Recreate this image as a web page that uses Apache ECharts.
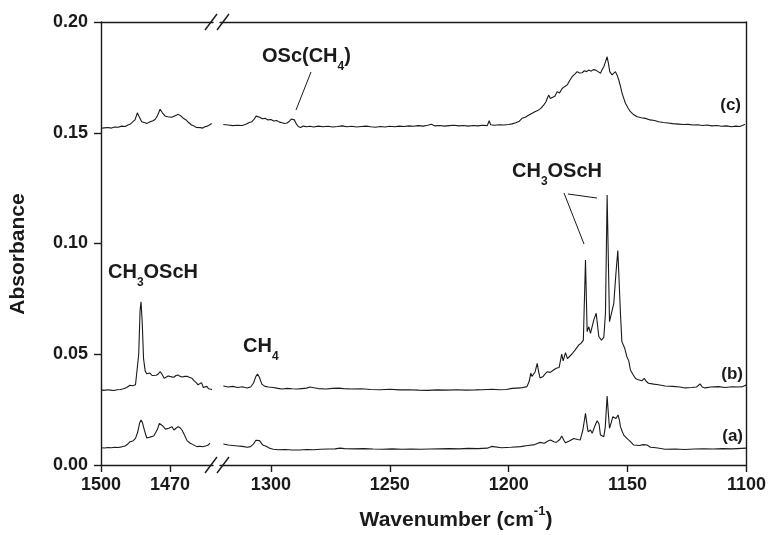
<!DOCTYPE html>
<html>
<head>
<meta charset="utf-8">
<title>IR spectra</title>
<script src="https://cdn.jsdelivr.net/npm/echarts@6/dist/echarts.min.js"></script>
<style>
  html, body { margin: 0; padding: 0; background: #fff; }
  #chart { width: 769px; height: 535px; }
</style>
</head>
<body>
<div id="chart"></div>
<script>
// tick values for the two pieces of the broken wavenumber axis
var leftTicks = [1500, 1470];
var rightTicks = [1300, 1250, 1200, 1150, 1100];

// spectrum (a), [wavenumber, absorbance]
var specA_left = [
  [1500,0.0078],[1498.5,0.0077],[1497,0.0079],[1495.5,0.0078],[1494,0.0080],[1492.5,0.0079],[1491,0.0082],
  [1489.5,0.0086],[1488.3,0.0095],[1487.4,0.0105],[1486.2,0.0108],[1485,0.0120],[1484,0.0150],[1483.2,0.0190],
  [1482.6,0.0203],[1482,0.0192],[1481.2,0.0160],[1480.1,0.0122],[1479,0.0125],[1478,0.0128],[1477,0.0132],
  [1476.3,0.0135],[1475.5,0.0160],[1474.6,0.0188],[1474,0.0191],[1473,0.0175],[1472,0.0162],[1471.3,0.0158],
  [1470.5,0.0166],[1469.1,0.0173],[1468.3,0.0158],[1467.4,0.0166],[1466.5,0.0173],[1465.6,0.0168],[1464.8,0.0158],
  [1463.7,0.0135],[1462.6,0.0110],[1461.2,0.0098],[1460,0.0092],[1458.3,0.0083],[1457,0.0085],[1455.8,0.0082],
  [1454.5,0.0086],[1453.4,0.0090],[1452.6,0.0099]
];
var specA_right = [
  [1320,0.0095],[1318,0.0090],[1316,0.0088],[1314,0.0086],[1312,0.0084],[1310,0.0080],[1308.5,0.0083],
  [1307.3,0.0095],[1306.3,0.0112],[1305.6,0.0120],[1304.8,0.0110],[1303.4,0.0090],[1302,0.0085],[1300.5,0.0076],
  [1299,0.0071],[1297,0.0069],[1294,0.0070],[1291,0.0068],[1288,0.0068],[1285,0.0070],[1282,0.0069],[1279,0.0071],
  [1276,0.0072],[1273,0.0073],[1271,0.0076],[1270.3,0.0079],[1269,0.0074],[1265,0.0073],[1261,0.0074],[1257,0.0072],
  [1253,0.0071],[1249,0.0073],[1245,0.0071],[1241,0.0072],[1237,0.0071],[1233,0.0072],[1229,0.0073],[1225,0.0074],
  [1221,0.0073],[1217,0.0075],[1213,0.0074],[1209,0.0076],[1207.2,0.0084],[1206.5,0.0076],[1203,0.0078],
  [1199,0.0080],[1195,0.0083],[1192,0.0088],[1189,0.0092],[1187,0.0102],[1185,0.0098],[1183.5,0.0108],
  [1182.4,0.0113],[1181,0.0105],[1180,0.0102],[1178.5,0.0115],[1177.7,0.0131],[1176.8,0.0112],[1176.1,0.0100],
  [1174.5,0.0108],[1172.6,0.0120],[1171,0.0115],[1169.9,0.0113],[1168.8,0.0158],[1167.7,0.0233],[1166.9,0.0170],
  [1166.6,0.0150],[1165.6,0.0158],[1164.9,0.0143],[1163.8,0.0175],[1162.8,0.0200],[1162,0.0185],[1161.4,0.0135],
  [1160.0,0.0128],[1159.4,0.0170],[1158.6,0.0311],[1158.0,0.0220],[1157.6,0.0166],[1156.9,0.0190],[1156.2,0.0218],
  [1155.5,0.0212],[1154.9,0.0210],[1154.0,0.0226],[1153.4,0.0200],[1153.0,0.0173],[1152.2,0.0150],[1151.6,0.0135],
  [1150.3,0.0120],[1149,0.0108],[1147.4,0.0090],[1145,0.0088],[1143.5,0.0092],[1142.8,0.0098],[1141.8,0.0090],
  [1140.4,0.0080],[1138,0.0078],[1134.2,0.0071],[1130,0.0072],[1126,0.0070],[1122,0.0072],[1118,0.0073],
  [1114,0.0072],[1110,0.0074],[1106,0.0073],[1102,0.0075],[1100.1,0.0076]
];

// spectrum (b)
var specB_left = [
  [1500,0.0339],[1498.6,0.0337],[1497.2,0.0340],[1495.8,0.0338],[1494.4,0.0336],[1493,0.0340],[1491.6,0.0341],
  [1490.2,0.0344],[1488.8,0.0350],[1487.4,0.0360],[1486.2,0.0358],[1485,0.0362],[1484.2,0.0370],[1483.6,0.0500],
  [1483.0,0.0700],[1482.6,0.0737],[1482.1,0.0650],[1481.5,0.0480],[1480.8,0.0425],[1480.1,0.0412],[1479.3,0.0418],
  [1478.7,0.0415],[1477.8,0.0404],[1477,0.0402],[1476,0.0405],[1475,0.0412],[1474.3,0.0422],[1473.5,0.0410],
  [1472.5,0.0392],[1471.8,0.0390],[1470.8,0.0402],[1470,0.0406],[1469.2,0.0398],[1468.3,0.0396],[1467.4,0.0404],
  [1466.5,0.0406],[1465.6,0.0400],[1464.6,0.0397],[1463.5,0.0400],[1462.6,0.0401],[1461.6,0.0396],[1460.5,0.0392],
  [1459.5,0.0380],[1458.6,0.0372],[1457.8,0.0362],[1457.0,0.0368],[1456.3,0.0372],[1455.5,0.0350],[1454.8,0.0348],
  [1454,0.0355],[1453.2,0.0344],[1452.5,0.0348],[1451.7,0.0341]
];
var specB_right = [
  [1320,0.0357],[1318,0.0352],[1316,0.0355],[1314,0.0350],[1312,0.0353],[1310,0.0348],[1308.5,0.0352],
  [1307.3,0.0370],[1306.3,0.0400],[1305.6,0.0411],[1304.8,0.0395],[1303.8,0.0365],[1302.5,0.0355],[1301,0.0352],
  [1299,0.0350],[1297,0.0346],[1295.4,0.0343],[1293,0.0346],[1291,0.0344],[1289,0.0343],[1287,0.0345],[1285,0.0347],
  [1283.5,0.0352],[1282.8,0.0356],[1282,0.0349],[1280,0.0345],[1277,0.0343],[1274,0.0346],[1271.5,0.0347],
  [1270.7,0.0352],[1269.5,0.0345],[1266,0.0343],[1262,0.0344],[1258,0.0341],[1254,0.0340],[1250,0.0342],
  [1246,0.0339],[1242,0.0340],[1238,0.0338],[1234,0.0337],[1230,0.0339],[1226,0.0338],[1222,0.0340],[1218,0.0338],
  [1214,0.0339],[1211,0.0340],[1207,0.0342],[1204,0.0340],[1201,0.0341],[1198.6,0.0346],[1195,0.0348],
  [1192.3,0.0354],[1191.3,0.0380],[1190.7,0.0415],[1190.2,0.0400],[1189.8,0.0393],[1188.9,0.0420],[1188.0,0.0459],
  [1187.4,0.0420],[1186.8,0.0393],[1185.5,0.0400],[1183.9,0.0421],[1182.5,0.0418],[1181.3,0.0428],[1180,0.0437],
  [1178.8,0.0440],[1177.7,0.0501],[1177.1,0.0470],[1176.1,0.0507],[1175.3,0.0480],[1174.7,0.0474],[1173.5,0.0500],
  [1172,0.0520],[1170.5,0.0542],[1169.5,0.0550],[1168.6,0.0564],[1167.7,0.0926],[1167.0,0.0602],[1166.3,0.0624],
  [1165.6,0.0594],[1164.2,0.0655],[1163.2,0.0685],[1162.1,0.0580],[1161.0,0.0564],[1160.0,0.0576],[1159.3,0.0686],
  [1158.6,0.1219],[1157.6,0.0647],[1156.8,0.0640],[1155.8,0.0730],[1154.9,0.0865],[1154.1,0.0968],[1153.4,0.0790],
  [1153.0,0.0685],[1152.4,0.0557],[1151.2,0.0527],[1150.3,0.0489],[1149.5,0.0470],[1148.8,0.0429],[1147.8,0.0410],
  [1146.7,0.0391],[1145.5,0.0385],[1144,0.0380],[1143,0.0391],[1142.2,0.0378],[1141.2,0.0369],[1139,0.0365],
  [1137,0.0362],[1134.2,0.0357],[1131,0.0355],[1128,0.0352],[1125.8,0.0348],[1123,0.0350],[1121,0.0352],
  [1119.5,0.0366],[1118.6,0.0352],[1117.4,0.0348],[1115,0.0352],[1111.8,0.0354],[1109,0.0350],[1106,0.0353],
  [1103.4,0.0352],[1101.5,0.0354],[1100.1,0.0361]
];

// spectrum (c)
var specC_left = [
  [1500,0.1520],[1498.5,0.1522],[1497,0.1524],[1495.5,0.1521],[1494,0.1526],[1492.5,0.1525],[1491,0.1530],
  [1489.5,0.1528],[1488.3,0.1535],[1487.2,0.1540],[1486.1,0.1550],[1485.2,0.1558],[1484.2,0.1590],[1483.4,0.1572],
  [1482.3,0.1550],[1481.2,0.1546],[1480.1,0.1542],[1479,0.1548],[1477.4,0.1554],[1476.5,0.1560],[1475.8,0.1570],
  [1475,0.1588],[1474.3,0.1606],[1473.3,0.1590],[1472.2,0.1576],[1471,0.1572],[1469.3,0.1570],[1468,0.1576],
  [1466.4,0.1583],[1465.3,0.1576],[1464.2,0.1565],[1463,0.1558],[1461.8,0.1545],[1460.6,0.1535],[1459.5,0.1530],
  [1458.5,0.1524],[1457.7,0.1520],[1456.8,0.1523],[1455.8,0.1521],[1454.8,0.1527],[1453.7,0.1530],[1452.7,0.1536],
  [1451.9,0.1542]
];
var specC_right = [
  [1320,0.1537],[1318,0.1535],[1316,0.1532],[1314,0.1534],[1312,0.1533],[1310.5,0.1538],[1309.3,0.1545],
  [1308,0.1550],[1307,0.1562],[1306.2,0.1575],[1305.5,0.1580],[1304.7,0.1570],[1303.6,0.1563],[1302.5,0.1565],
  [1301.2,0.1558],[1300,0.1560],[1298.8,0.1553],[1297.6,0.1555],[1296.4,0.1548],[1295.3,0.1545],[1294.2,0.1542],
  [1293.2,0.1544],[1292.2,0.1552],[1291.4,0.1562],[1290.8,0.1567],[1290.1,0.1558],[1289.3,0.1540],[1288.5,0.1528],
  [1287.5,0.1524],[1286.3,0.1530],[1285,0.1527],[1283.5,0.1529],[1282,0.1526],[1280,0.1530],[1278,0.1527],
  [1276,0.1529],[1274,0.1526],[1272,0.1528],[1270,0.1531],[1268,0.1527],[1266,0.1529],[1264,0.1526],[1262,0.1528],
  [1260,0.1530],[1258,0.1527],[1256,0.1525],[1254,0.1528],[1252,0.1526],[1250,0.1529],[1248,0.1527],[1246,0.1530],
  [1244,0.1528],[1242,0.1531],[1240,0.1529],[1238,0.1532],[1236,0.1530],[1234,0.1534],[1232.5,0.1538],[1231,0.1531],
  [1229,0.1533],[1227,0.1530],[1225,0.1532],[1223,0.1534],[1221,0.1531],[1219,0.1533],[1217,0.1530],[1215,0.1533],
  [1213,0.1531],[1211,0.1534],[1209,0.1532],[1208.2,0.1554],[1207.6,0.1536],[1206,0.1534],[1204,0.1536],
  [1202,0.1535],[1200,0.1537],[1198.6,0.1540],[1197,0.1545],[1195.5,0.1552],[1194.4,0.1565],[1193,0.1570],
  [1191.5,0.1580],[1190.1,0.1588],[1189,0.1595],[1187.8,0.1600],[1186.5,0.1610],[1185.3,0.1625],[1184.3,0.1640],
  [1183.6,0.1660],[1183.1,0.1670],[1182.5,0.1655],[1181.7,0.1648],[1180.6,0.1665],[1179.6,0.1685],[1178.6,0.1680],
  [1177.5,0.1700],[1176.5,0.1708],[1175.4,0.1716],[1174.4,0.1735],[1173.3,0.1753],[1172.2,0.1765],[1171.2,0.1776],
  [1170.2,0.1770],[1169.1,0.1771],[1168.2,0.1780],[1167.2,0.1776],[1166.3,0.1783],[1165.3,0.1778],[1164.4,0.1785],
  [1163.5,0.1783],[1162.4,0.1776],[1161.4,0.1769],[1160.7,0.1785],[1160.0,0.1798],[1159.3,0.1820],[1158.6,0.1843],
  [1158.0,0.1810],[1157.5,0.1776],[1156.5,0.1761],[1155.8,0.1770],[1155.1,0.1776],[1154.4,0.1760],[1153.7,0.1738],
  [1153.0,0.1710],[1152.3,0.1678],[1151.6,0.1655],[1150.9,0.1633],[1149.8,0.1612],[1148.8,0.1595],[1147.5,0.1582],
  [1146.0,0.1572],[1144.2,0.1568],[1142.5,0.1565],[1140.5,0.1558],[1138.7,0.1555],[1136.9,0.1550],[1135,0.1546],
  [1133,0.1544],[1131,0.1541],[1128.6,0.1539],[1126.5,0.1537],[1124.5,0.1538],[1122.5,0.1535],[1120.5,0.1536],
  [1118.5,0.1533],[1116.5,0.1535],[1114.6,0.1531],[1112.5,0.1533],[1110.5,0.1529],[1108.5,0.1531],[1106.2,0.1527],
  [1104.5,0.1530],[1103,0.1528],[1101.6,0.1533],[1100.6,0.1539]
];

var FONT = 'Liberation Sans, Arial, sans-serif';
var INK = '#1a1a1a';

var chart = echarts.init(document.getElementById('chart'));

function bottomAxis(grid, min, max, ticks) {
  return {
    type: 'value', gridIndex: grid, position: 'bottom', inverse: true, min: min, max: max,
    axisLine: { show: true, lineStyle: { color: INK, width: 1.4 } },
    axisTick: { show: true, customValues: ticks, length: 7, lineStyle: { color: INK, width: 1.4 } },
    axisLabel: { customValues: ticks, margin: 11, color: INK, fontSize: 18, fontWeight: 'bold', fontFamily: FONT,
      formatter: function (v) { return String(v); } },
    splitLine: { show: false }
  };
}
function topAxis(grid, min, max) {
  return {
    type: 'value', gridIndex: grid, position: 'top', inverse: true, min: min, max: max,
    axisLine: { show: true, lineStyle: { color: INK, width: 1.4 } },
    axisTick: { show: false }, axisLabel: { show: false }, splitLine: { show: false }
  };
}
function line(data, xi, yi) {
  return {
    type: 'line', data: data, xAxisIndex: xi, yAxisIndex: yi,
    showSymbol: false, symbol: 'none', silent: true, animation: false,
    lineStyle: { color: INK, width: 1.1 }
  };
}

var bold = { fontSize: 20, fontWeight: 'bold', fontFamily: FONT, verticalAlign: 'top' };
var sub = { fontSize: 12, fontWeight: 'bold', fontFamily: FONT, verticalAlign: 'top', padding: [15, 0, 0, 0] };
function label(txt, x, y) {
  return { type: 'text', silent: true, style: { text: txt, x: x, y: y, fill: INK, align: 'left', verticalAlign: 'top', rich: { b: bold, s: sub } } };
}
function seg(x1, y1, x2, y2) {
  return { type: 'line', silent: true, shape: { x1: x1, y1: y1, x2: x2, y2: y2 }, style: { stroke: INK, lineWidth: 1 } };
}
function slash(cx, cy) {
  return { type: 'line', silent: true, shape: { x1: cx - 6, y1: cy + 8, x2: cx + 6, y2: cy - 8 }, style: { stroke: INK, lineWidth: 1.4 } };
}
function tag(txt, x, y) {
  return { type: 'text', silent: true, style: { text: txt, x: x, y: y, fill: INK, align: 'right', verticalAlign: 'middle', fontSize: 17, fontWeight: 'bold', fontFamily: FONT } };
}

var option = {
  backgroundColor: '#fff',
  animation: false,
  grid: [
    { left: 101, top: 22, width: 112, height: 443 },
    { left: 220, top: 22, width: 528, height: 443 }
  ],
  xAxis: [
    bottomAxis(0, 1451.3, 1500, leftTicks),
    bottomAxis(1, 1100, 1321.4, rightTicks),
    topAxis(0, 1451.3, 1500),
    topAxis(1, 1100, 1321.4)
  ],
  yAxis: [
    {
      type: 'value', gridIndex: 0, position: 'left', min: 0, max: 0.2, interval: 0.05,
      axisLine: { show: true, lineStyle: { color: INK, width: 1.4 } },
      axisTick: { show: true, length: 7, lineStyle: { color: INK, width: 1.4 } },
      axisLabel: { margin: 13, color: INK, fontSize: 18, fontWeight: 'bold', fontFamily: FONT,
        formatter: function (v) { return v.toFixed(2); } },
      splitLine: { show: false }
    },
    {
      type: 'value', gridIndex: 1, position: 'right', min: 0, max: 0.2,
      axisLine: { show: true, lineStyle: { color: INK, width: 1.4 } },
      axisTick: { show: false }, axisLabel: { show: false }, splitLine: { show: false }
    }
  ],
  series: [
    line(specA_left, 0, 0), line(specB_left, 0, 0), line(specC_left, 0, 0),
    line(specA_right, 1, 1), line(specB_right, 1, 1), line(specC_right, 1, 1)
  ],
  graphic: [
    // axis break marks
    slash(211, 465), slash(223, 465), slash(211, 22), slash(223, 22),
    // peak labels
    label('{b|OSc(CH}{s|4}{b|)}', 262, 46),
    seg(311, 72, 296, 110),
    label('{b|CH}{s|3}{b|OScH}', 108, 262),
    label('{b|CH}{s|4}', 243, 336),
    label('{b|CH}{s|3}{b|OScH}', 512, 161),
    seg(564, 193, 584, 244),
    seg(568, 194, 597, 198),
    tag('(c)', 741, 105), tag('(b)', 743, 374), tag('(a)', 743, 436),
    // y axis title, sits a bit below the plot centre as in the original
    {
      type: 'text', silent: true, x: 18, y: 254, rotation: Math.PI / 2,
      style: { text: 'Absorbance', x: 0, y: 0, align: 'center', verticalAlign: 'middle', fill: INK,
        fontSize: 21, fontWeight: 'bold', fontFamily: FONT }
    },
    // x axis title with superscript
    {
      type: 'text', silent: true,
      style: {
        text: '{b|Wavenumber (cm}{p|-1}{b|)}', x: 456, y: 505, align: 'center', verticalAlign: 'top', fill: INK,
        rich: {
          b: { fontSize: 21, fontWeight: 'bold', fontFamily: FONT, verticalAlign: 'top', padding: [5, 0, 0, 0] },
          p: { fontSize: 13, fontWeight: 'bold', fontFamily: FONT, verticalAlign: 'top' }
        }
      }
    }
  ]
};

chart.setOption(option);
</script>
</body>
</html>
